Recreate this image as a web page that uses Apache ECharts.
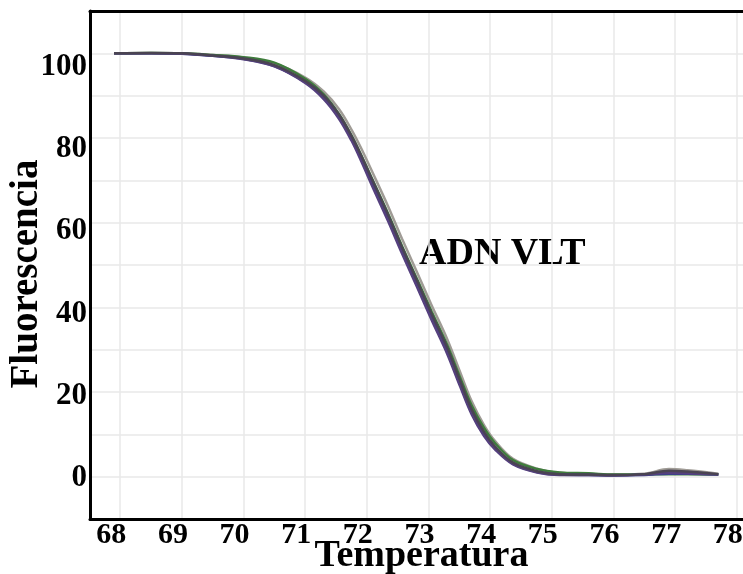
<!DOCTYPE html>
<html>
<head>
<meta charset="utf-8">
<script src="https://cdn.jsdelivr.net/npm/echarts@6/dist/echarts.min.js"></script>
<style>html,body{margin:0;padding:0;background:#fff;}#c{width:743px;height:574px;}</style>
</head>
<body>
<div id="c"></div>
<script>
// Temperature (°C) sample points shared by all melting curves
const temps = [67.9, 68.5, 69.0, 69.5, 70.0, 70.5, 71.0, 71.3, 71.55, 71.75, 71.9, 72.1, 72.34, 72.57, 72.81, 73.05, 73.3, 73.51, 73.7, 73.9, 74.08, 74.37, 74.76, 75.13, 75.6, 76.0, 76.5, 76.9, 77.2, 77.7];
// Fluorescence of each replicate
const fluorGray   = [100.0, 100.1, 100.0, 99.6, 99.0, 97.6, 94.3, 91.0, 86.8, 82.0, 77.8, 71.6, 64.0, 56.2, 48.4, 40.5, 32.6, 24.8, 17.8, 12.2, 8.4, 4.2, 1.9, 0.9, 0.6, 0.5, 0.7, 1.8, 1.5, 0.7];
const fluorGreen  = [100.0, 100.1, 100.0, 99.6, 99.1, 97.8, 94.0, 90.3, 85.6, 80.6, 76.2, 69.9, 62.3, 54.5, 46.8, 39.0, 31.2, 23.5, 16.8, 11.5, 7.9, 3.9, 1.8, 1.0, 0.8, 0.5, 0.5, 0.6, 0.6, 0.5];
const fluorBlue   = [100.0, 100.0, 99.9, 99.4, 98.7, 97.0, 93.2, 89.6, 85.0, 79.9, 75.4, 69.0, 61.3, 53.5, 45.7, 37.8, 29.9, 22.1, 15.3, 10.0, 6.7, 3.1, 1.1, 0.5, 0.4, 0.3, 0.4, 0.7, 0.7, 0.5];
const fluorPurple = [100.0, 100.0, 99.9, 99.4, 98.6, 96.9, 93.0, 89.2, 84.5, 79.4, 74.8, 68.2, 60.5, 52.7, 44.9, 37.0, 29.1, 21.4, 14.7, 9.6, 6.4, 2.9, 1.0, 0.4, 0.4, 0.3, 0.5, 0.9, 0.8, 0.5];
const fluorDark   = [100.0, 100.1, 100.0, 99.5, 98.8, 97.2, 93.5, 90.0, 85.5, 80.5, 76.1, 69.7, 62.0, 54.2, 46.4, 38.5, 30.6, 22.8, 15.9, 10.6, 7.1, 3.3, 1.3, 0.6, 0.5, 0.4, 0.6, 1.4, 1.2, 0.6];
// Axis tick labels
const xTicks = [68, 69, 70, 71, 72, 73, 74, 75, 76, 77, 78];
const yTicks = [0, 20, 40, 60, 80, 100];

const font = '"Liberation Serif", "Times New Roman", serif';
const samples = [
  {name: 'gris', data: fluorGray, color: '#a09c96'},
  {name: 'verde', data: fluorGreen, color: '#3f7d3c'},
  {name: 'azul', data: fluorBlue, color: '#3b3f8c'},
  {name: 'morado', data: fluorPurple, color: '#55407e'},
  {name: 'oscuro', data: fluorDark, color: '#4a4452'}
];

const chart = echarts.init(document.getElementById('c'), null, {renderer: 'canvas'});
chart.setOption({
  backgroundColor: '#ffffff',
  animation: false,
  grid: {left: 90, right: 0, top: 11, bottom: 55, containLabel: false, outerBoundsMode: 'none'},
  xAxis: [{
    type: 'value', min: 67.51, max: 78.1,
    name: 'Temperatura', nameLocation: 'middle', nameGap: 18, nameMoveOverlap: false,
    nameTextStyle: {fontFamily: font, fontWeight: 'bold', fontSize: 38, color: '#000', padding: [0, 0, 0, 10]},
    axisLine: {show: true, onZero: false, lineStyle: {color: '#000', width: 3}},
    axisTick: {show: false, customValues: xTicks},
    axisLabel: {customValues: xTicks, fontFamily: font, fontWeight: 'bold', fontSize: 30, color: '#000', margin: 1, padding: [0, 18, 0, 0]},
    splitLine: {show: true, lineStyle: {color: '#e9e9e9', width: 1.5}}
  }, {
    type: 'value', position: 'top', min: 67.51, max: 78.1,
    axisLine: {show: true, onZero: false, lineStyle: {color: '#000', width: 3}},
    axisTick: {show: false}, axisLabel: {show: false}, splitLine: {show: false}
  }],
  yAxis: [{
    type: 'value', min: -10, max: 110, interval: 10,
    name: 'Fluorescencia', nameLocation: 'middle', nameGap: 44, nameRotate: 90, nameMoveOverlap: false,
    nameTextStyle: {fontFamily: font, fontWeight: 'bold', fontSize: 39, color: '#000', padding: [0, 18, 0, 0]},
    axisLine: {show: true, onZero: false, lineStyle: {color: '#000', width: 3}},
    axisTick: {show: false}, axisLabel: {show: false},
    splitLine: {show: true, lineStyle: {color: '#e9e9e9', width: 1.5}}
  }, {
    type: 'value', position: 'left', min: -10, max: 113.6,
    axisLine: {show: false}, axisTick: {show: false}, splitLine: {show: false},
    axisLabel: {customValues: yTicks, fontFamily: font, fontWeight: 'bold', fontSize: 31, color: '#000', margin: 3}
  }],
  graphic: [{
    type: 'text', left: 419, top: 235,
    style: {text: 'ADN VLT', font: 'bold 38px ' + font, fill: '#000'}
  }],
  series: samples.map(s => ({
    type: 'line', name: s.name, xAxisIndex: 0, yAxisIndex: 0,
    data: temps.map((t, i) => [t, s.data[i]]),
    smooth: 0.35, showSymbol: false,
    lineStyle: {color: s.color, width: 2.5}
  }))
});
</script>
</body>
</html>
